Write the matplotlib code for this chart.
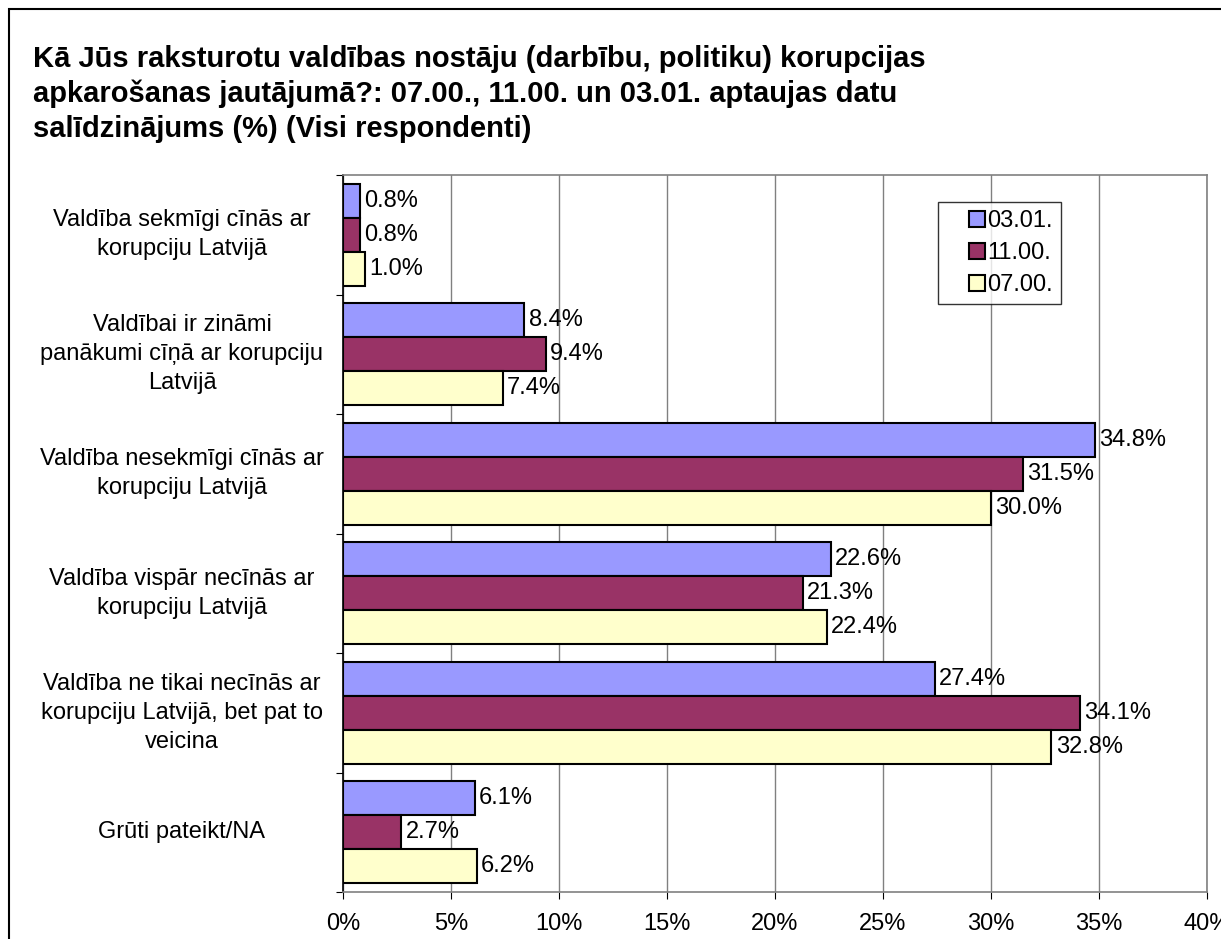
import numpy as np
import matplotlib.pyplot as plt
from matplotlib.patches import Rectangle
from matplotlib.legend_handler import HandlerPatch
from matplotlib.ticker import FuncFormatter, MultipleLocator

plt.rcParams['font.family'] = ['Liberation Sans', 'DejaVu Sans']

title = ('Kā Jūs raksturotu valdības nostāju (darbību, politiku) korupcijas\n'
         'apkarošanas jautājumā?: 07.00., 11.00. un 03.01. aptaujas datu\n'
         'salīdzinājums (%) (Visi respondenti)')

categories = [
    'Valdība sekmīgi cīnās ar\nkorupciju Latvijā',
    'Valdībai ir zināmi\npanākumi cīņā ar korupciju\nLatvijā',
    'Valdība nesekmīgi cīnās ar\nkorupciju Latvijā',
    'Valdība vispār necīnās ar\nkorupciju Latvijā',
    'Valdība ne tikai necīnās ar\nkorupciju Latvijā, bet pat to\nveicina',
    'Grūti pateikt/NA',
]

series_names = ['03.01.', '11.00.', '07.00.']
v_0301 = [0.8, 8.4, 34.8, 22.6, 27.4, 6.1]
v_1100 = [0.8, 9.4, 31.5, 21.3, 34.1, 2.7]
v_0700 = [1.0, 7.4, 30.0, 22.4, 32.8, 6.2]
colors = ['#9999FF', '#993366', '#FFFFCC']


def square_at_right(legend, orig_handle, xdescent, ydescent, width, height, fontsize):
    # legend key drawn as a small square at the right end of the handle box
    return Rectangle((-xdescent + width - height, -ydescent), height, height)


fig = plt.figure(figsize=(12.21, 9.39), dpi=100)
ax = fig.add_axes([343 / 1221, 1 - 892 / 939, (1207 - 343) / 1221, (892 - 175) / 939])

# outer chart border (only top/left visible in the original)
fig.patches.append(Rectangle((9 / 1221, -0.1), 1.2, 1 - 9 / 939 + 0.1,
                             transform=fig.transFigure, fill=False,
                             edgecolor='black', linewidth=1.5))

fig.text(33 / 1221, 1 - 45 / 939, title, fontsize=21, fontweight='bold',
         va='top', ha='left', linespacing=1.3)

h = 0.285
y = np.arange(len(categories))
all_vals = [v_0301, v_1100, v_0700]
key_patches = []
for i, (vals, c, name) in enumerate(zip(all_vals, colors, series_names)):
    ypos = y - h + i * h
    bars = ax.barh(ypos, vals, height=h, color=c, edgecolor='black',
                   linewidth=1.5, label=name, zorder=3)
    key_patches.append(bars.patches[0])
    for b, v in zip(bars, vals):
        ax.annotate(f'{v:.1f}%', (v, b.get_y() + h / 2), xytext=(3, 0),
                    textcoords='offset points', va='center', ha='left',
                    fontsize=17, zorder=4)

ax.set_xlim(0, 40)
ax.set_ylim(len(categories) - 0.5, -0.5)
ax.xaxis.set_major_locator(MultipleLocator(5))
ax.xaxis.set_major_formatter(FuncFormatter(lambda x, p: f'{x:.0f}%'))
ax.tick_params(axis='x', labelsize=17, length=5, direction='out', pad=10,
               color='black')
ax.set_yticks(np.arange(len(categories) + 1) - 0.5)
ax.set_yticklabels([])
ax.tick_params(axis='y', length=5, direction='out', color='black')
ax.grid(axis='x', color='#808080', linewidth=1, zorder=0)

for s in ['top', 'right', 'bottom']:
    ax.spines[s].set_color('#808080')
    ax.spines[s].set_linewidth(1.2)
ax.spines['left'].set_color('black')
ax.spines['left'].set_linewidth(1.2)

# category labels, centred in the left margin
for yi, lab in zip(y, categories):
    ax.text((182 - 343) / (1207 - 343), yi, lab, transform=ax.get_yaxis_transform(),
            ha='center', va='center', multialignment='center', fontsize=17,
            linespacing=1.42)

leg = ax.legend(key_patches, series_names, loc='upper left',
                bbox_to_anchor=((938 - 343) / 864, 1 - (202 - 175) / 717),
                fontsize=17, frameon=True, fancybox=False, edgecolor='black',
                handlelength=1.65, handleheight=0.65, handletextpad=0.1,
                borderpad=0.35, labelspacing=0.42, borderaxespad=0,
                handler_map={Rectangle: HandlerPatch(patch_func=square_at_right)})
leg.get_frame().set_linewidth(1)

fig.savefig('out.png', dpi=100)
